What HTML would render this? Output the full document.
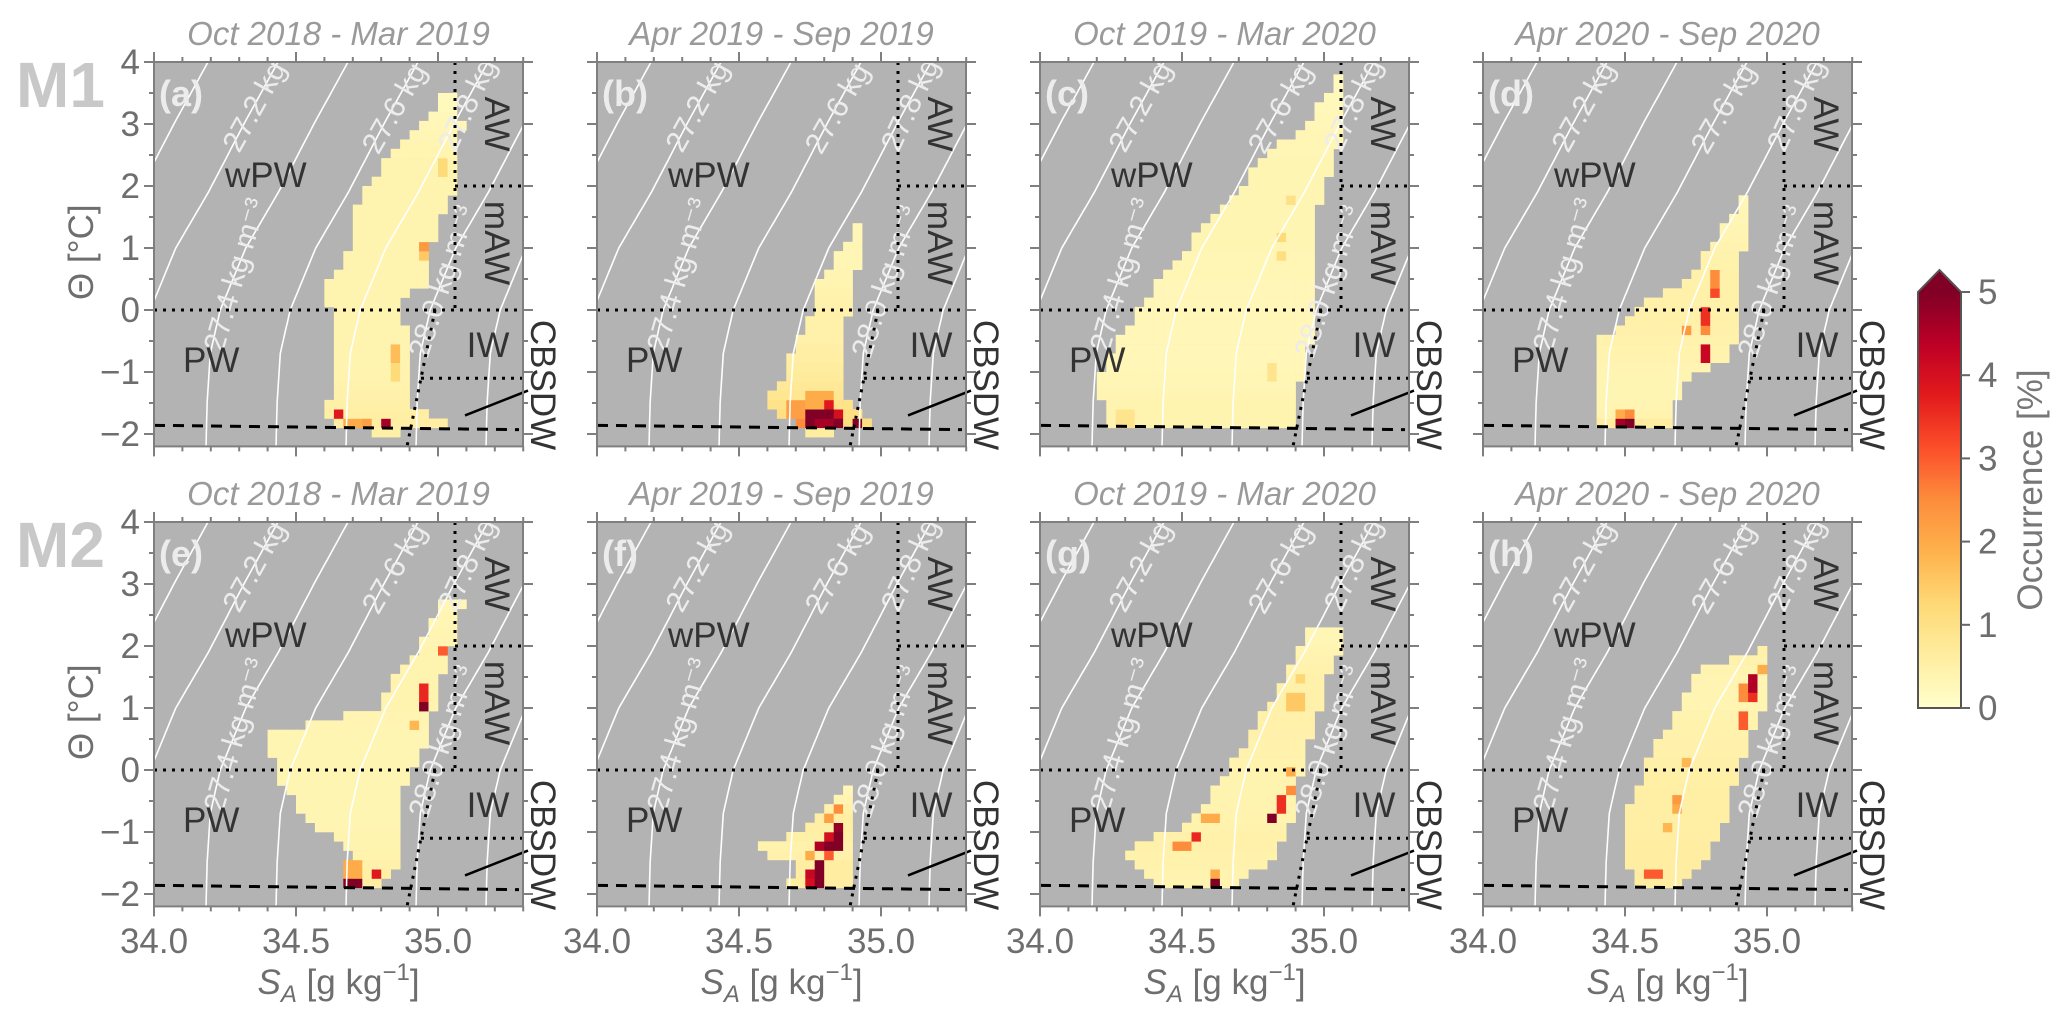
<!DOCTYPE html>
<html><head><meta charset="utf-8"><style>
html,body{margin:0;padding:0;background:#fff;}
svg{display:block;font-family:"Liberation Sans",sans-serif;}
</style></head><body>
<svg id="fig" width="2067" height="1019" viewBox="0 0 2067 1019" xmlns="http://www.w3.org/2000/svg">
<defs>
<linearGradient id="cbgrad" x1="0" y1="1" x2="0" y2="0">
<stop offset="0" stop-color="#ffffcc"/><stop offset="0.125" stop-color="#ffeda0"/><stop offset="0.25" stop-color="#fed976"/><stop offset="0.375" stop-color="#feb24c"/><stop offset="0.5" stop-color="#fd8d3c"/><stop offset="0.625" stop-color="#fc4e2a"/><stop offset="0.75" stop-color="#e31a1c"/><stop offset="0.875" stop-color="#bd0026"/><stop offset="1" stop-color="#800026"/>
</linearGradient>
</defs>
<text x="16" y="107" font-size="64" font-weight="bold" fill="#c8c8c8">M1</text>
<text x="16" y="567" font-size="64" font-weight="bold" fill="#c8c8c8">M2</text>
<g>
<rect x="1918" y="292" width="43" height="416" fill="url(#cbgrad)"/>
<polygon points="1918,292 1939.5,270 1961,292" fill="#800026"/>
<polygon points="1918,708 1918,292 1939.5,270 1961,292 1961,708" fill="none" stroke="#555" stroke-width="2"/>
<text transform="translate(2042,490) rotate(-90)" text-anchor="middle" font-size="35" fill="#777">Occurrence [%]</text>
</g>
</svg>
<script>
const panelTitles = ["Oct 2018 - Mar 2019","Apr 2019 - Sep 2019","Oct 2019 - Mar 2020","Apr 2020 - Sep 2020","Oct 2018 - Mar 2019","Apr 2019 - Sep 2019","Oct 2019 - Mar 2020","Apr 2020 - Sep 2020"];
const panelLetters = ["(a)","(b)","(c)","(d)","(e)","(f)","(g)","(h)"];
const yTicks = [-2,-1,0,1,2,3,4];
const xTicks = [34.0,34.5,35.0];
const cbTicks = [0,1,2,3,4,5];
const isoLabels = ["27.0","27.2","27.4","27.6","27.8","28.0","28.2","28.4"];
// rows: [theta, S_min, S_max, base occurrence]
const rowsA = [[3.35,35.01,35.06,0.2],[3.0,34.95,35.08,0.3],[2.5,34.84,35.07,0.4],[2.0,34.75,35.07,0.4],[1.5,34.71,35.01,0.4],[1.0,34.71,34.97,0.4],[0.5,34.62,34.97,0.4],[0.1,34.62,34.85,0.4],[-0.5,34.65,34.9,0.4],[-1.0,34.65,34.9,0.4],[-1.5,34.62,34.89,0.5],[-1.8,34.62,35.04,0.6],[-2.0,34.78,34.84,0.5]];
const hotA = [[34.66,-1.72,3.8],[34.83,-1.85,4.6],[34.70,-1.85,2],[34.76,-1.85,2.2],[34.95,1.05,2.3],[34.95,0.85,1.5],[34.85,-0.6,1.7],[34.85,-0.8,1.7],[34.85,-1.0,1.2],[35.02,2.3,1.2]];
const rowsB = [[1.34,34.91,34.94,0.3],[1.08,34.88,34.94,0.3],[0.7,34.82,34.91,0.35],[0.38,34.78,34.88,0.4],[-0.11,34.75,34.88,0.5],[-0.48,34.72,34.87,0.5],[-0.81,34.68,34.87,0.6],[-1.13,34.65,34.87,0.7],[-1.34,34.61,34.87,0.8],[-1.61,34.61,34.90,1.0],[-1.8,34.69,34.97,1.2],[-1.96,34.75,34.84,0.6]];
const hotB = [[34.76,-1.66,5],[34.80,-1.66,5],[34.76,-1.82,5],[34.80,-1.82,4.6],[34.83,-1.5,3.8],[34.86,-1.66,4],[34.86,-1.82,5],[34.93,-1.82,5],[34.73,-1.76,2.5],[34.70,-1.6,2.2],[34.76,-1.45,2],[34.80,-1.45,2]];
const rowsC = [[3.66,35.04,35.07,0.2],[3.0,34.94,35.07,0.3],[2.5,34.80,35.04,0.35],[2.0,34.71,35.0,0.35],[1.5,34.62,34.97,0.35],[1.0,34.52,34.97,0.35],[0.5,34.42,34.97,0.3],[0.0,34.35,34.97,0.3],[-0.5,34.27,34.95,0.3],[-1.0,34.22,34.92,0.3],[-1.5,34.22,34.9,0.4],[-1.8,34.25,34.88,0.4]];
const hotC = [[34.85,1.2,1.2],[34.85,0.9,1.1],[34.87,1.8,1.0],[34.83,-1.0,0.9],[34.3,-1.75,0.9]];
const rowsD = [[1.77,34.91,34.94,0.3],[1.34,34.85,34.94,0.35],[0.86,34.78,34.91,0.45],[0.48,34.72,34.88,0.5],[0.1,34.55,34.88,0.5],[-0.16,34.52,34.88,0.5],[-0.48,34.42,34.88,0.45],[-0.81,34.39,34.85,0.4],[-1.13,34.39,34.71,0.35],[-1.4,34.42,34.68,0.35],[-1.67,34.42,34.65,0.4],[-1.83,34.42,34.65,0.6]];
const hotD = [[34.51,-1.8,5],[34.48,-1.8,4.6],[34.51,-1.64,2.5],[34.48,-1.64,2],[34.79,-0.7,4.2],[34.79,-0.1,3.5],[34.82,0.32,3.2],[34.82,-0.92,3],[34.73,-0.37,2.3],[34.79,-0.37,2.5],[34.82,0.5,2.5]];
const rowsE = [[2.65,35.02,35.08,0.3],[2.0,34.94,35.05,0.4],[1.5,34.84,35.01,0.4],[1.0,34.80,34.98,0.4],[0.6,34.42,34.97,0.35],[0.2,34.42,34.93,0.35],[-0.3,34.46,34.87,0.35],[-0.7,34.53,34.87,0.35],[-1.0,34.60,34.87,0.4],[-1.3,34.70,34.85,0.4],[-1.6,34.66,34.85,0.5],[-1.8,34.66,34.80,0.6]];
const hotE = [[34.79,-1.65,3.8],[34.70,-1.85,5],[34.96,1.05,5],[34.96,1.25,3.6],[35.03,1.9,3],[34.68,-1.6,2],[34.72,-1.6,2],[34.92,0.75,1.8]];
const rowsF = [[-0.35,34.87,34.91,0.3],[-0.5,34.85,34.91,0.4],[-0.8,34.78,34.91,0.6],[-1.1,34.65,34.91,0.5],[-1.3,34.52,34.91,0.4],[-1.5,34.72,34.91,0.6],[-1.7,34.72,34.88,0.6],[-1.85,34.68,34.88,0.6]];
const hotF = [[34.79,-1.85,5],[34.79,-1.7,5],[34.79,-1.55,5],[34.76,-1.7,4.2],[34.76,-1.85,4],[34.82,-1.25,5],[34.79,-1.25,4.5],[34.86,-1.1,5],[34.86,-1.25,5],[34.86,-0.95,4.8],[34.83,-1.1,4],[34.83,-1.4,3],[34.86,-0.65,2.5],[34.83,-0.8,2.2],[34.76,-1.4,2]];
const rowsG = [[2.26,34.94,35.07,0.3],[1.83,34.91,35.04,0.4],[1.35,34.85,35.0,0.5],[0.86,34.78,34.97,0.5],[0.38,34.72,34.94,0.45],[-0.1,34.65,34.91,0.4],[-0.54,34.58,34.90,0.4],[-0.92,34.52,34.87,0.45],[-1.18,34.35,34.85,0.5],[-1.45,34.30,34.81,0.45],[-1.77,34.42,34.68,0.4]];
const hotG = [[34.83,-0.78,5],[34.86,-0.55,3.5],[34.87,-0.3,2.5],[34.54,-1.02,3.6],[34.50,-1.2,2.5],[34.60,-0.73,2],[34.63,-1.8,5],[34.63,-1.65,2],[34.87,-0.05,2],[34.90,1.1,1.5],[34.92,1.5,1.3]];
const rowsH = [[1.94,34.97,35.0,0.5],[1.61,34.75,35.0,0.4],[1.13,34.71,35.0,0.35],[0.65,34.65,34.94,0.45],[0.16,34.58,34.91,0.5],[-0.32,34.55,34.87,0.55],[-0.76,34.49,34.85,0.55],[-1.2,34.52,34.81,0.6],[-1.57,34.52,34.75,0.6],[-1.8,34.55,34.71,0.6]];
const hotH = [[34.96,1.40,4.5],[34.96,1.13,3.5],[34.92,0.8,3],[34.92,1.25,2.5],[34.99,1.6,2],[34.69,-0.43,2.3],[34.69,-0.6,2],[34.60,-1.68,3],[34.73,0.16,1.8],[34.66,-0.9,1.8]];

const allRows=[rowsA,rowsB,rowsC,rowsD,rowsE,rowsF,rowsG,rowsH];
const allHot=[hotA,hotB,hotC,hotD,hotE,hotF,hotG,hotH];
const NS="http://www.w3.org/2000/svg";
const svg=document.getElementById('fig');
const LEFTS=[154,597,1040,1483], TOPS=[62,522];
const PW=369, PH=384.4, SX=284, TY=62;
const stops=["#ffffcc","#ffeda0","#fed976","#feb24c","#fd8d3c","#fc4e2a","#e31a1c","#bd0026","#800026"];
function hex(c){return [parseInt(c.slice(1,3),16),parseInt(c.slice(3,5),16),parseInt(c.slice(5,7),16)];}
function cmap(v){let t=Math.max(0,Math.min(1,v/5))*8;let i=Math.min(7,Math.floor(t));let f=t-i;let a=hex(stops[i]),b=hex(stops[i+1]);return `rgb(${a.map((x,k)=>Math.round(x+(b[k]-x)*f)).join(',')})`;}
function el(tag,attrs,parent){const e=document.createElementNS(NS,tag);for(const k in attrs)e.setAttribute(k,attrs[k]);(parent||svg).appendChild(e);return e;}
const gT=[-2.2,-1.5,-0.7,0,1,1.9,3,4], gV=[0,0.004,0.015,0.05,0.14,0.255,0.38,0.50];
function gfun(T){for(let i=0;i<gT.length-1;i++){if(T<=gT[i+1]){const f=(T-gT[i])/(gT[i+1]-gT[i]);return gV[i]+f*(gV[i+1]-gV[i]);}}return gV[gV.length-1];}
function interpRow(rows,T){
  const ts=rows.map(r=>r[0]);const mx=Math.max(...ts),mn=Math.min(...ts);
  if(T>mx+0.075||T<mn-0.075)return null;
  const s=rows.slice().sort((a,b)=>a[0]-b[0]);
  if(T<=s[0][0])return s[0]; if(T>=s[s.length-1][0])return s[s.length-1];
  for(let i=0;i<s.length-1;i++){if(T>=s[i][0]&&T<=s[i+1][0]){const f=(T-s[i][0])/(s[i+1][0]-s[i][0]);return s[i].map((v,k)=>v+f*(s[i+1][k]-v));}}
  return null;
}
for(let p=0;p<8;p++){
  const L=LEFTS[p%4], Tp=TOPS[Math.floor(p/4)];
  const sx=S=>L+(S-34)*SX, ty=T=>Tp+(4-T)*TY;
  const g=el('g',{});
  
  
  const cid='clip'+p;
  const cp=el('clipPath',{id:cid},g);el('rect',{x:L,y:Tp,width:PW,height:PH},cp);
  const bg=el('rect',{x:L,y:Tp,width:PW,height:PH,fill:'#b3b3b3'},g);
  
  
  const cl=el('g',{'clip-path':`url(#${cid})`},g);
  const hm=el('g',{},cl);
  
  
  const rows=allRows[p], hot=allHot[p];
  const cw=SX/30, ch=0.15*TY;
  for(let k=0;k<42;k++){
    const Tc=-2.125+k*0.15; const r=interpRow(rows,Tc); if(!r)continue;
    for(let j=0;j<45;j++){
      const Sc=34+(j+0.5)/30; if(Sc<r[1]-0.005||Sc>r[2]+0.005)continue;
      let v=r[3];
      for(const h of hot){if(Math.abs(h[0]-Sc)<=1/60+0.001&&Math.abs(h[1]-Tc)<=0.076)v=Math.max(v,h[2]);}
      const c=el('rect',{x:(sx(Sc)-cw/2).toFixed(1),y:(ty(Tc)-ch/2).toFixed(1),width:(cw+0.3).toFixed(1),height:(ch+0.3).toFixed(1),fill:cmap(v)},hm);
      
      
    }
  }
  for(let i=0;i<8;i++){
    const x0=-88+70*i;let d='';
    for(let T=-2.3;T<=4.05;T+=0.1){const x=L+x0+gfun(Math.max(-2.2,T))*SX;d+=(d?'L':'M')+x.toFixed(1)+','+ty(T).toFixed(1);}
    const pth=el('path',{d:d,fill:'none',stroke:'#fff','stroke-width':1.6},cl);
    
    
  }
  const isoTxt=[["27.2 kg",102,3.27,-61],["27.6 kg",242,3.24,-60],["27.8 kg",315,3.3,-65],["27.4 kg m⁻³",83,0.56,-74],["28.0 kg m⁻³",290,0.45,-72]];
  for(const it of isoTxt){
    const t=el('text',{transform:`translate(${L+it[1]},${ty(it[2])}) rotate(${it[3]})`,'text-anchor':'middle','dominant-baseline':'middle','font-size':30,fill:'#ececec'},cl);
    t.textContent=it[0];
    
    
  }
  const wm=el('g',{fill:'none',stroke:'#000','stroke-width':3},g);
  
  
  const dots='3 6';
  el('line',{x1:L+301,y1:Tp,x2:L+301,y2:ty(0),'stroke-dasharray':dots},wm);
  el('line',{x1:L+301,y1:ty(2),x2:L+PW,y2:ty(2),'stroke-dasharray':dots},wm);
  el('line',{x1:L,y1:ty(0),x2:L+PW,y2:ty(0),'stroke-dasharray':dots},wm);
  el('line',{x1:L+281,y1:ty(0),x2:L+253,y2:ty(-2.2),'stroke-dasharray':dots},wm);
  el('line',{x1:L+267,y1:ty(-1.1),x2:L+PW,y2:ty(-1.1),'stroke-dasharray':dots},wm);
  el('line',{x1:L,y1:ty(-1.86),x2:L+PW-4,y2:ty(-1.93),'stroke-dasharray':'11 8'},wm);
  el('line',{x1:L+311,y1:ty(-1.7),x2:L+374,y2:ty(-1.3),'stroke-width':2.5},wm);
  const wml=[["wPW",71,1.98,0,'start'],["PW",29,-1.0,0,'start'],["IW",334,-0.61,0,'middle'],["AW",340,3.0,90,'middle'],["mAW",340,1.08,90,'middle'],["CBSDW",386,-1.21,90,'middle']];
  for(const w of wml){
    let t;
    if(w[3]){t=el('text',{transform:`translate(${L+w[1]},${ty(w[2])}) rotate(90)`,'text-anchor':'middle','dominant-baseline':'middle','font-size':35,fill:'#333'},g);}
    else if(w[4]==='middle'){t=el('text',{x:L+w[1],y:ty(w[2]),'text-anchor':'middle','dominant-baseline':'middle','font-size':35,fill:'#333'},g);}
    else{t=el('text',{x:L+w[1],y:ty(w[2]),'font-size':35,fill:'#333'},g);}
    t.textContent=w[0];
    
    
  }
  const ax=el('g',{stroke:'#7f7f7f','stroke-width':2},g);
  
  
  el('rect',{x:L,y:Tp,width:PW,height:PH,fill:'none'},ax);
  for(let m=0;m<=13;m++){const S=34+m*0.1;const x=sx(S);const len=(m%5===0)?10:5;
    el('line',{x1:x,y1:Tp,x2:x,y2:Tp-len},ax);el('line',{x1:x,y1:Tp+PH,x2:x,y2:Tp+PH+len},ax);}
  for(let m=-4;m<=8;m++){const T=m*0.5;const y=ty(T);const len=(m%2===0)?10:5;
    el('line',{x1:L,y1:y,x2:L-len,y2:y},ax);el('line',{x1:L+PW,y1:y,x2:L+PW+len,y2:y},ax);}
  const pl=el('text',{x:L+5,y:Tp+44,'font-size':36,'font-weight':'bold',fill:'#ececec'},g);
  pl.textContent=panelLetters[p];
  
  
  const tt=el('text',{x:L+PW/2,y:Tp-17,'text-anchor':'middle','font-size':33,'font-style':'italic',fill:'#9a9a9a'},g);
  tt.textContent=panelTitles[p];
  
  
  if(p%4===0){
    for(const v of yTicks){const t=el('text',{x:L-14,y:ty(v)+12,'text-anchor':'end','font-size':35,fill:'#6e6e6e'},g);
      t.textContent=(v<0?'\u2212'+(-v):String(v));
      
      }
    const yt=el('text',{transform:`translate(93,${Tp+PH/2-2}) rotate(-90)`,'text-anchor':'middle','font-size':35,fill:'#6e6e6e'},g);
    yt.textContent='\u0398 [\u00b0C]';
    
    
  }
  if(p>=4){
    for(const v of xTicks){const t=el('text',{x:sx(v),y:953,'text-anchor':'middle','font-size':35,fill:'#6e6e6e'},g);
      t.textContent=v.toFixed(1);
      
      }
    const xt=el('text',{x:L+PW/2,y:994,'text-anchor':'middle','font-size':35,fill:'#6e6e6e'},g);
    xt.innerHTML='<tspan font-style="italic">S</tspan><tspan font-style="italic" font-size="24" dy="8">A</tspan><tspan dy="-8"> [g kg</tspan><tspan font-size="24" dy="-14">\u22121</tspan><tspan dy="14">]</tspan>';
    
    
  }
}
const cbY=v=>708-v*83.2;
for(const v of cbTicks){
  const tk=el('line',{x1:1961,y1:cbY(v),x2:1970,y2:cbY(v),stroke:'#666','stroke-width':2});
  
  
  const t=el('text',{x:1978,y:cbY(v)+12,'font-size':35,fill:'#6e6e6e'});
  t.textContent=String(v);
  
  
}
</script>
</body></html>
